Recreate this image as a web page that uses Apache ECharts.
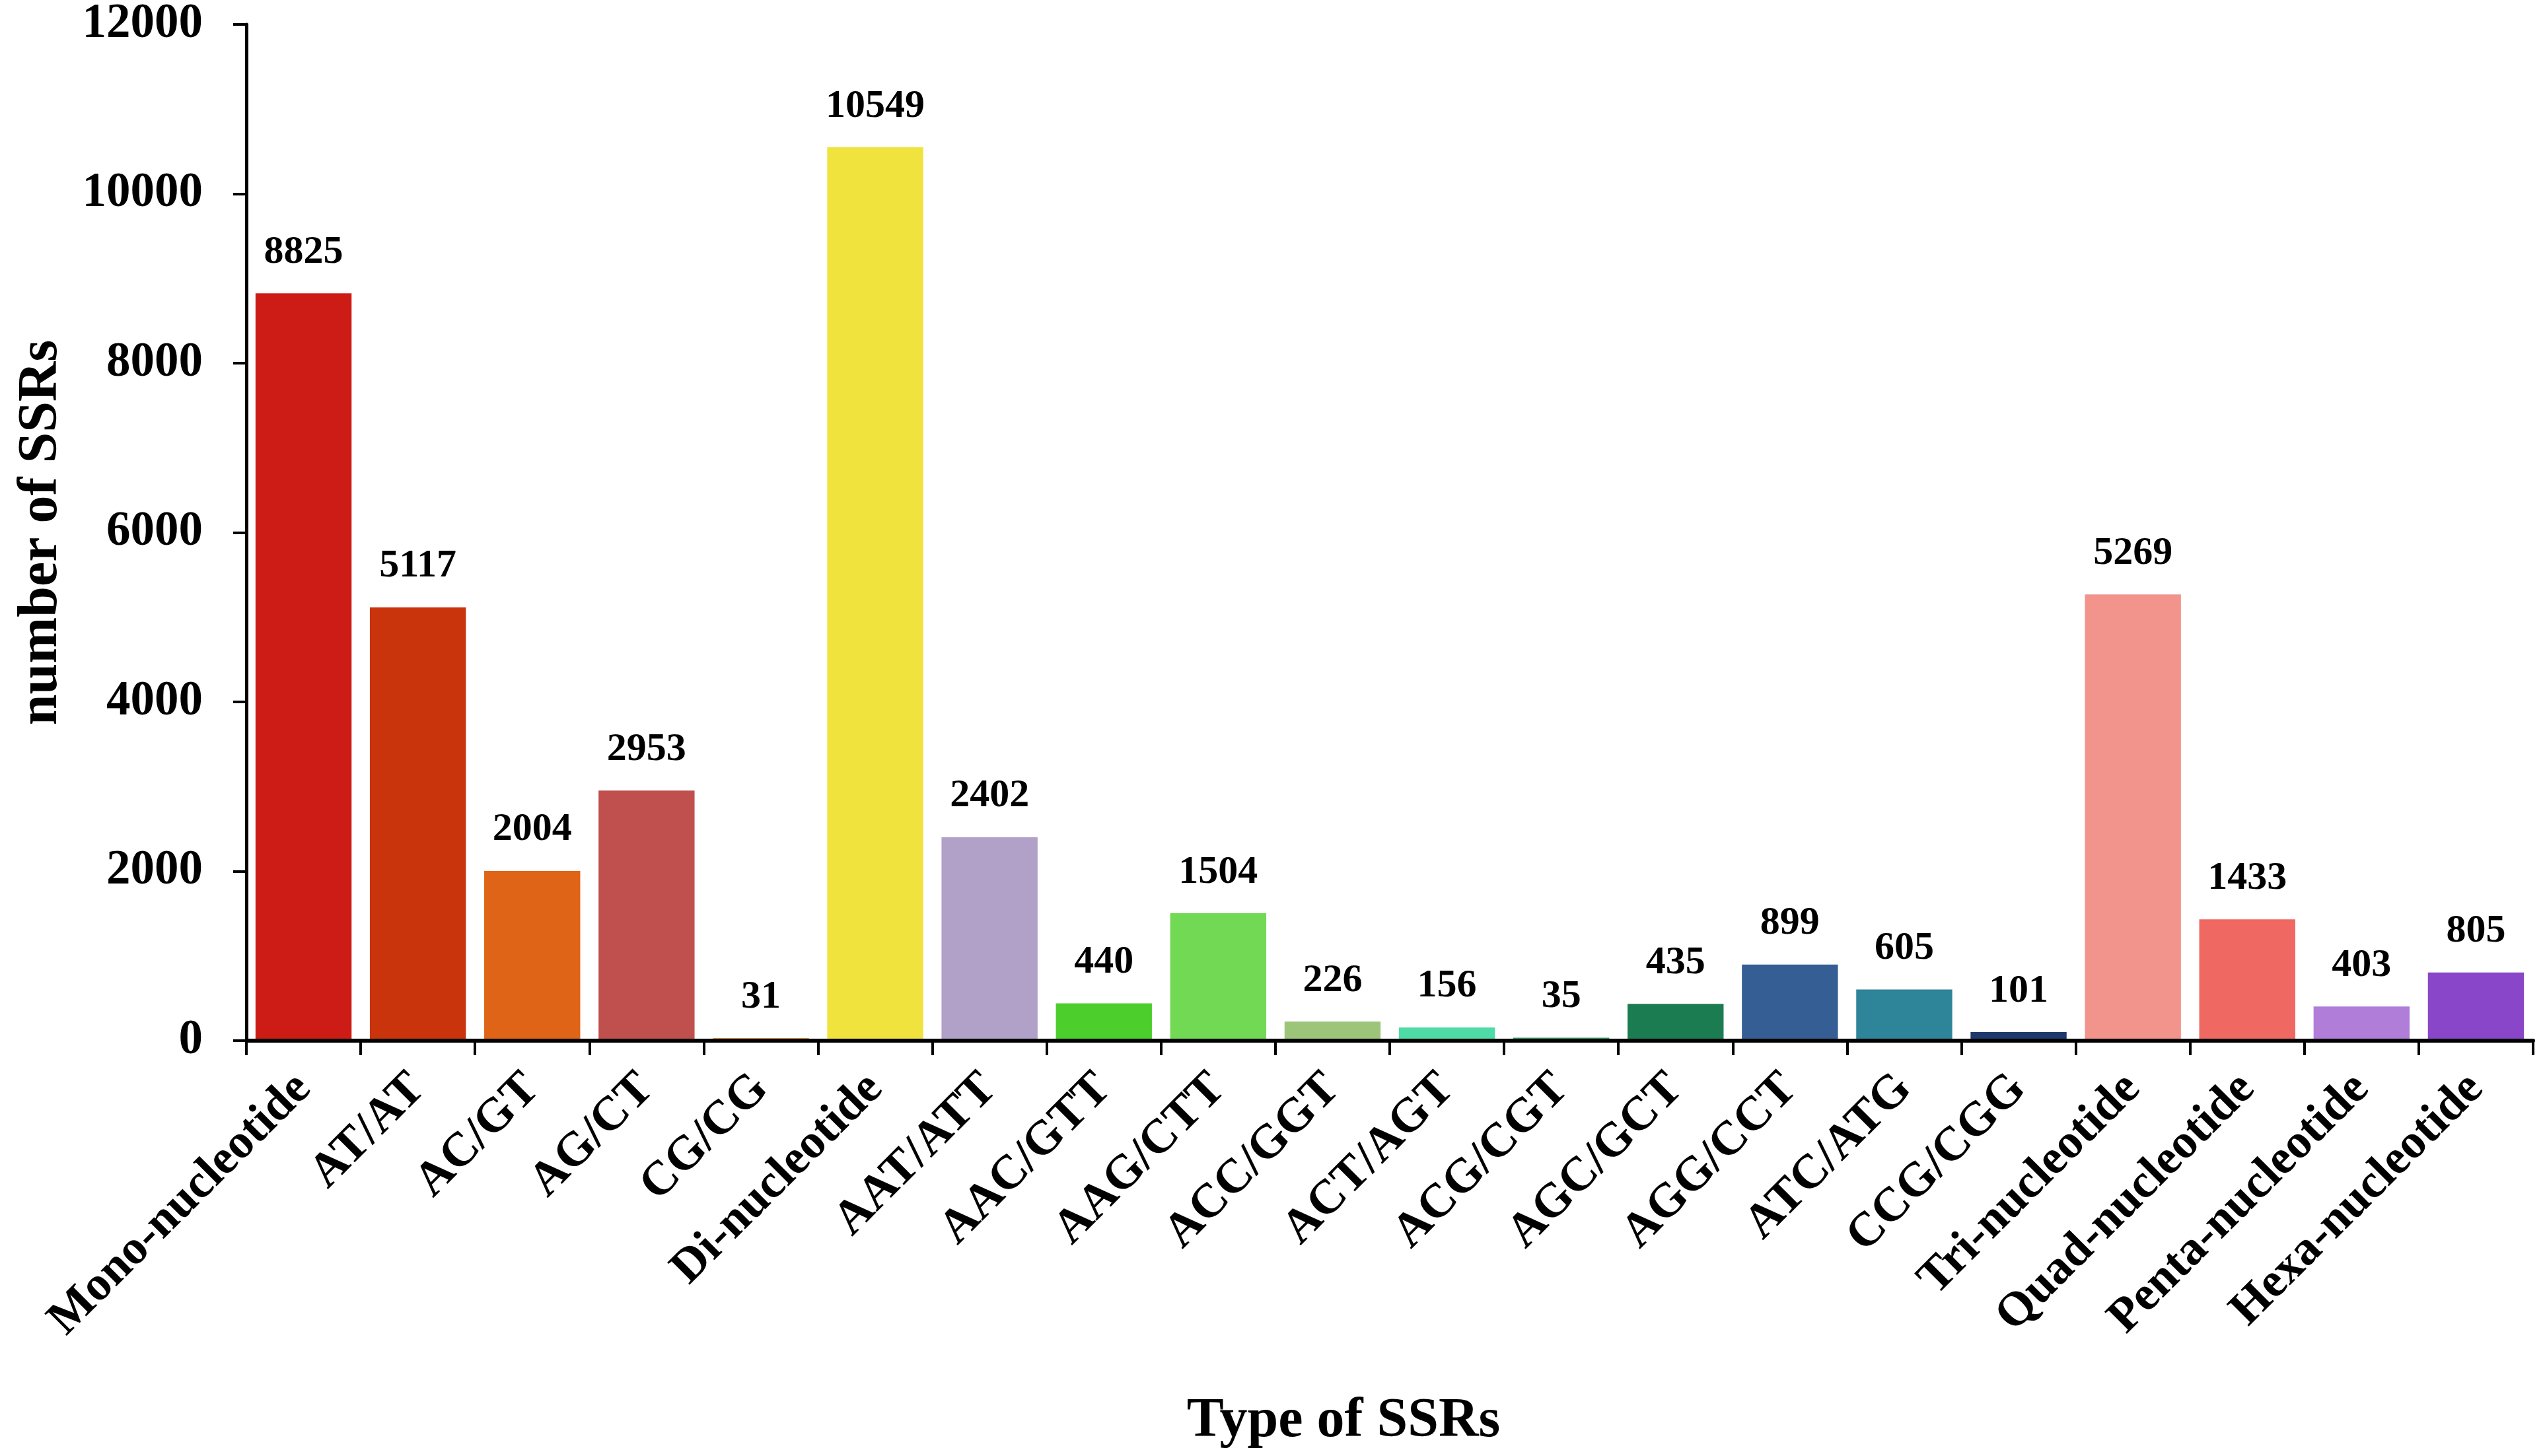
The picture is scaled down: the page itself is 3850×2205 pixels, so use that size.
<!DOCTYPE html>
<html>
<head>
<meta charset="utf-8">
<title>Type of SSRs</title>
<script src="https://cdn.jsdelivr.net/npm/echarts@6/dist/echarts.min.js"></script>
<style>
    html, body { margin: 0; padding: 0; background: #fff; }
    #main { width: 3850px; height: 2205px; }
</style>
</head>
<body>
<div id="main"></div>
<script>
// 数据
var categories = ['Mono-nucleotide', 'AT/AT', 'AC/GT', 'AG/CT', 'CG/CG', 'Di-nucleotide',
    'AAT/ATT', 'AAC/GTT', 'AAG/CTT', 'ACC/GGT', 'ACT/AGT', 'ACG/CGT', 'AGC/GCT',
    'AGG/CCT', 'ATC/ATG', 'CCG/CGG', 'Tri-nucleotide', 'Quad-nucleotide',
    'Penta-nucleotide', 'Hexa-nucleotide'];
var counts = [8825, 5117, 2004, 2953, 31, 10549, 2402, 440, 1504, 226, 156, 35, 435,
    899, 605, 101, 5269, 1433, 403, 805];
var yTicks = [0, 2000, 4000, 6000, 8000, 10000, 12000];

// 每根柱子的颜色
var barColors = ['#CD1C15', '#C9340D', '#DF6417', '#C0504D', '#E39A3B', '#F1E33D',
    '#B1A0C7', '#4CCF2C', '#71D954', '#9CC57A', '#4EDBA6', '#2FA36B', '#1B7B51',
    '#355F94', '#2E8499', '#1E3A6D', '#F2938C', '#EF6862', '#B07DD9', '#8A46C8'];

var font = "'Times New Roman', 'Liberation Serif', serif";

var myChart = echarts.init(document.getElementById('main'));

var option = {
    backgroundColor: '#fff',
    animation: false,
    grid: {
        left: 373,
        right: 15,
        top: 37,
        bottom: 629
    },
    xAxis: {
        type: 'category',
        data: categories,
        zlevel: 1,
        name: 'Type of SSRs',
        nameLocation: 'middle',
        nameGap: 535,
        nameTextStyle: {
            fontFamily: font,
            fontWeight: 'bold',
            fontSize: 84,
            color: '#000',
            padding: [0, 140, 0, 0]
        },
        axisLine: { lineStyle: { color: '#000', width: 6 } },
        axisTick: { show: true, length: 22, lineStyle: { color: '#000', width: 4 } },
        axisLabel: {
            rotate: 45,
            margin: 62,
            interval: 0,
            fontFamily: font,
            fontWeight: 'bold',
            fontSize: 73,
            color: '#000'
        }
    },
    yAxis: {
        type: 'value',
        min: yTicks[0],
        max: yTicks[yTicks.length - 1],
        interval: yTicks[1] - yTicks[0],
        zlevel: 1,
        name: 'number of SSRs',
        nameLocation: 'middle',
        nameGap: 268,
        nameTextStyle: {
            fontFamily: font,
            fontWeight: 'bold',
            fontSize: 84,
            color: '#000'
        },
        splitLine: { show: false },
        axisLine: { show: true, lineStyle: { color: '#000', width: 5 } },
        axisTick: { show: true, length: 20, lineStyle: { color: '#000', width: 4 } },
        axisLabel: {
            margin: 66,
            formatter: function (v) { return String(v); },
            fontFamily: font,
            fontWeight: 'bold',
            fontSize: 73,
            color: '#000'
        }
    },
    series: [{
        type: 'bar',
        barCategoryGap: '16%',
        data: counts.map(function (v, i) {
            return { value: v, itemStyle: { color: barColors[i] } };
        }),
        label: {
            show: true,
            position: 'top',
            distance: 32,
            fontFamily: font,
            fontWeight: 'bold',
            fontSize: 60,
            color: '#000'
        }
    }]
};

myChart.setOption(option);
</script>
</body>
</html>
